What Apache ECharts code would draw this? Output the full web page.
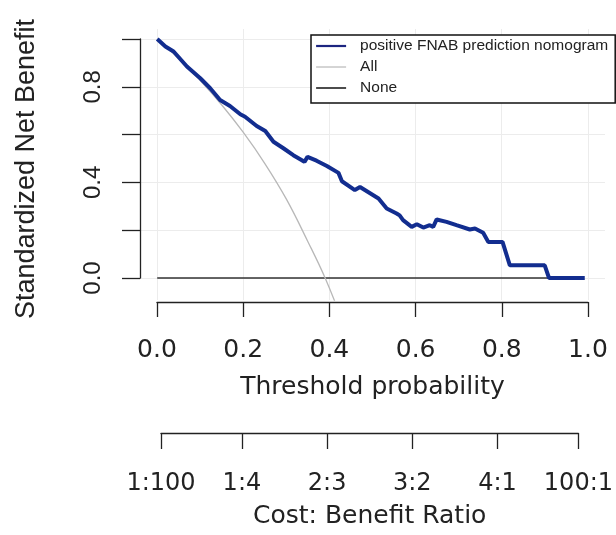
<!DOCTYPE html>
<html>
<head>
<meta charset="utf-8">
<script src="https://cdn.jsdelivr.net/npm/echarts@6/dist/echarts.min.js"></script>
<style>
html,body{margin:0;padding:0;background:#fff;}
#chart{width:616px;height:535px;}
</style>
</head>
<body>
<div id="chart"></div>
<script>
// ---- data ----
const xTicks = [0, 0.2, 0.4, 0.6, 0.8, 1.0];
const xTickLabels = ['0.0', '0.2', '0.4', '0.6', '0.8', '1.0'];
const yTicks = [0, 0.2, 0.4, 0.6, 0.8, 1.0];
const yTickLabels = ['0.0', '', '0.4', '', '0.8', ''];
const cbTicks = [0.01, 0.2, 0.4, 0.6, 0.8, 0.99];
const cbLabels = ['1:100', '1:4', '2:3', '3:2', '4:1', '100:1'];

const seriesNames = ['positive FNAB prediction nomogram', 'All', 'None'];

const modelT = [0.000, 0.019, 0.038, 0.069, 0.100, 0.123, 0.146, 0.169, 0.193, 0.204,
  0.231, 0.251, 0.270, 0.293, 0.316, 0.336, 0.342, 0.349, 0.370, 0.394,
  0.421, 0.429, 0.459, 0.471, 0.514, 0.533, 0.556, 0.563, 0.571, 0.591,
  0.603, 0.618, 0.633, 0.641, 0.649, 0.672, 0.695, 0.726, 0.738, 0.757,
  0.769, 0.802, 0.819, 0.900, 0.910, 0.993];
const modelNB = [1.000, 0.969, 0.948, 0.885, 0.836, 0.794, 0.745, 0.720, 0.685, 0.675,
  0.636, 0.615, 0.570, 0.543, 0.514, 0.493, 0.486, 0.507, 0.491, 0.469,
  0.440, 0.405, 0.368, 0.381, 0.333, 0.291, 0.270, 0.262, 0.242, 0.214,
  0.225, 0.211, 0.221, 0.214, 0.245, 0.235, 0.221, 0.203, 0.207, 0.189,
  0.151, 0.151, 0.053, 0.053, 0.000, 0.000];

const allT = [0.000, 0.050, 0.100, 0.150, 0.200, 0.250, 0.300, 0.350, 0.390, 0.430];
const allNB = [1.000, 0.918, 0.826, 0.724, 0.609, 0.479, 0.330, 0.152, 0.000, -0.180];

const noneT = [0.000, 0.990];
const noneNB = [0.000, 0.000];

// ---- helpers ----
function zip(a, b) { return a.map((v, i) => [v, b[i]]); }
function lookup(ticks, labels, v) {
  const i = ticks.findIndex(t => Math.abs(t - v) < 1e-6);
  return i >= 0 ? labels[i] : '';
}

const ink = '#222222';
const blue = '#122d8f';
const gray = '#b8b8b8';
const sansX = 'DejaVu Sans';
const sansY = 'Liberation Sans';

const chart = echarts.init(document.getElementById('chart'), null, { renderer: 'canvas' });

const option = {
  animation: false,
  backgroundColor: '#ffffff',
  grid: [
    { left: 140, right: 11, top: 29, bottom: 235 },
    { left: 140, right: 475, top: 39, bottom: 257 },
    { left: 157, right: 28, top: 100, bottom: 233 },
    { left: 161, right: 32, top: 100, bottom: 102 }
  ],
  xAxis: [
    { gridIndex: 0, type: 'value', min: -0.04, max: 1.04, show: false },
    { gridIndex: 1, type: 'value', min: 0, max: 1, show: false },
    {
      gridIndex: 2, type: 'value', min: 0, max: 1, interval: 0.2, position: 'bottom',
      axisLine: { show: true, lineStyle: { color: ink, width: 1.3 } },
      axisTick: { show: true, length: 15, lineStyle: { color: ink, width: 1.3 } },
      splitLine: { show: false },
      axisLabel: {
        margin: 36, fontFamily: sansX, fontSize: 25, color: ink,
        showMinLabel: true, showMaxLabel: true,
        formatter: v => lookup(xTicks, xTickLabels, v)
      },
      name: 'Threshold probability', nameLocation: 'middle', nameGap: 73,
      nameTextStyle: { fontFamily: sansX, fontSize: 25, color: ink, verticalAlign: 'top' }
    },
    {
      gridIndex: 3, type: 'value', min: 0.01, max: 0.99, position: 'bottom',
      axisLine: { show: true, lineStyle: { color: ink, width: 1.3 } },
      axisTick: { show: true, length: 16, customValues: cbTicks, lineStyle: { color: ink, width: 1.3 } },
      splitLine: { show: false },
      axisLabel: {
        margin: 39, fontFamily: sansX, fontSize: 24, color: ink,
        customValues: cbTicks, showMinLabel: true, showMaxLabel: true, hideOverlap: false,
        formatter: v => lookup(cbTicks, cbLabels, v)
      },
      name: 'Cost: Benefit Ratio', nameLocation: 'middle', nameGap: 71,
      nameTextStyle: { fontFamily: sansX, fontSize: 25, color: ink, verticalAlign: 'top' }
    }
  ],
  yAxis: [
    { gridIndex: 0, type: 'value', min: -0.092, max: 1.042, show: false },
    {
      gridIndex: 1, type: 'value', min: 0, max: 1, interval: 0.2, position: 'left',
      axisLine: { show: true, lineStyle: { color: ink, width: 1.3 } },
      axisTick: { show: true, length: 18, lineStyle: { color: ink, width: 1.3 } },
      splitLine: { show: false },
      axisLabel: {
        rotate: 90, margin: 35, fontFamily: sansY, fontSize: 24, color: ink,
        showMinLabel: true, showMaxLabel: true,
        formatter: v => lookup(yTicks, yTickLabels, v)
      }
    },
    { gridIndex: 2, type: 'value', show: false },
    { gridIndex: 3, type: 'value', show: false }
  ],
  legend: {
    orient: 'vertical', left: 311, top: 35,
    data: [
      { name: seriesNames[0], lineStyle: { width: 2.2, color: '#1c2580' }, itemStyle: { opacity: 0 } },
      { name: seriesNames[1], lineStyle: { width: 1, color: '#aaaaaa' }, itemStyle: { opacity: 0 } },
      { name: seriesNames[2], lineStyle: { width: 1.5, color: '#111111' }, itemStyle: { opacity: 0 } }
    ],
    itemWidth: 30, itemHeight: 14, itemGap: 5,
    padding: [3, 7, 7, 4],
    borderColor: '#111111', borderWidth: 1.5, borderRadius: 0,
    backgroundColor: '#ffffff',
    textStyle: { fontFamily: sansY, fontSize: 15.5, color: ink, lineHeight: 14, padding: [0, 0, 0, 9] },
    selectedMode: false
  },
  graphic: [
    {
      type: 'text', x: 27, y: 169, rotation: Math.PI / 2,
      style: {
        text: 'Standardized Net Benefit', font: '27px "Liberation Sans"', fill: ink,
        align: 'center', verticalAlign: 'middle'
      }
    }
  ],
  series: [
    {
      name: '__grid', type: 'line', xAxisIndex: 0, yAxisIndex: 0, data: [], z: 0,
      silent: true,
      markLine: {
        silent: true, z: 0, symbol: ['none', 'none'], animation: false,
        label: { show: false },
        lineStyle: { color: '#ececec', width: 1, type: 'solid' },
        data: [
          ...xTicks.map(v => ({ xAxis: v })),
          ...yTicks.map(v => ({ yAxis: v }))
        ]
      }
    },
    {
      name: seriesNames[2], type: 'line', xAxisIndex: 0, yAxisIndex: 0,
      data: zip(noneT, noneNB), symbol: 'none', z: 3,
      lineStyle: { color: '#333333', width: 1.4 }, itemStyle: { color: '#333333' }
    },
    {
      name: seriesNames[1], type: 'line', xAxisIndex: 0, yAxisIndex: 0,
      data: zip(allT, allNB), symbol: 'none', z: 4, smooth: 0.4, clip: true,
      lineStyle: { color: gray, width: 1.3 }, itemStyle: { color: gray }
    },
    {
      name: seriesNames[0], type: 'line', xAxisIndex: 0, yAxisIndex: 0,
      data: zip(modelT, modelNB), symbol: 'none', z: 5,
      lineStyle: { color: blue, width: 4 }, itemStyle: { color: blue }
    }
  ]
};

chart.setOption(option);
</script>
</body>
</html>
